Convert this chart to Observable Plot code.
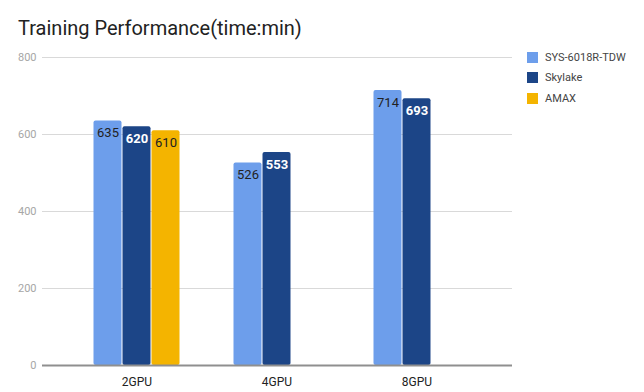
<!DOCTYPE html>
<html>
<head>
<meta charset="utf-8">
<script src="https://cdn.jsdelivr.net/npm/d3@7"></script>
<script src="https://cdn.jsdelivr.net/npm/@observablehq/plot@0.6"></script>
<style>
  html, body { margin: 0; padding: 0; background: #fff; }
  #wrap { position: relative; width: 644px; height: 392px; font-family: Roboto, sans-serif; overflow: hidden; }
  #title { position: absolute; left: 18px; top: 18px; font-size: 20px; line-height: 20px; color: #222; white-space: nowrap; }
  #legend { position: absolute; left: 527px; top: 47px; font-size: 11px; color: #444; }
  .item { display: flex; align-items: center; height: 20.5px; }
  .sw { width: 11px; height: 11px; margin-right: 7px; }
  .layer { position: absolute; left: 0; top: 0; }
</style>
</head>
<body>
<div id="wrap">
  <div id="grid" class="layer"></div>
  <div id="bars" class="layer"></div>
  <div id="base" class="layer"></div>
  <div id="title">Training Performance(time:min)</div>
  <div id="legend"></div>
</div>
<script>
const groups = ["2GPU", "4GPU", "8GPU"];
const seriesNames = ["SYS-6018R-TDW", "Skylake", "AMAX"];
const colors = ["#6d9eeb", "#1c4587", "#f4b400"];
const sysValues = [635, 526, 714];
const skylakeValues = [620, 553, 693];
const amaxValues = [610, null, null];
const yTicks = [0, 200, 400, 600, 800];

const seriesValues = [sysValues, skylakeValues, amaxValues];
const data = [];
seriesNames.forEach((s, si) => {
  groups.forEach((g, gi) => {
    const v = seriesValues[si][gi];
    if (v != null) data.push({group: g, series: s, value: v});
  });
});
const darkSeries = "Skylake";

const common = {
  width: 644,
  height: 392,
  marginLeft: 42,
  marginRight: 132,
  marginTop: 57,
  marginBottom: 27,
  style: {fontFamily: "Roboto, sans-serif", background: "transparent", overflow: "visible"},
  y: {domain: [0, 800], axis: null}
};

// Layer 1: gridlines and y tick labels
const gridPlot = Plot.plot({
  ...common,
  x: {domain: [0, 1], axis: null},
  marks: [
    Plot.ruleY(yTicks.filter(d => d > 0), {stroke: "#d9d9d9", strokeWidth: 1}),
    Plot.axisY(yTicks, {tickSize: 0, tickPadding: 6, fill: "#a6a6a6", fontSize: 11, label: null})
  ]
});
document.getElementById("grid").appendChild(gridPlot);

// Layer 2: bars and value labels
const barPlot = Plot.plot({
  ...common,
  fx: {domain: groups, paddingInner: 0.364, paddingOuter: 0.36, label: null, axis: "bottom", tickSize: 0, tickPadding: 12},
  x: {domain: seriesNames, padding: 0, axis: null},
  color: {domain: seriesNames, range: colors},
  marks: [
    Plot.barY(data, {fx: "group", x: "series", y: "value", fill: "series", insetLeft: 0.5, insetRight: 0.5, rx: 2}),
    Plot.text(data.filter(d => d.series !== darkSeries), {fx: "group", x: "series", y: "value", text: d => String(d.value), dy: 12, fill: "#222", fontSize: 13}),
    Plot.text(data.filter(d => d.series === darkSeries), {fx: "group", x: "series", y: "value", text: d => String(d.value), dy: 12, fill: "#fff", fontSize: 13, fontWeight: "bold"})
  ]
});
barPlot.querySelectorAll('g[aria-label^="fx-axis"] text').forEach(t => { t.setAttribute("fill", "#222"); t.style.fontSize = "12px"; });
document.getElementById("bars").appendChild(barPlot);

// Layer 3: zero baseline on top
const basePlot = Plot.plot({
  ...common,
  x: {domain: [0, 1], axis: null},
  marks: [
    Plot.ruleY([0], {stroke: "#8f8f8f", strokeWidth: 2})
  ]
});
document.getElementById("base").appendChild(basePlot);

const legend = document.getElementById("legend");
seriesNames.forEach((s, i) => {
  const item = document.createElement("div");
  item.className = "item";
  const sw = document.createElement("div");
  sw.className = "sw";
  sw.style.background = colors[i];
  const label = document.createElement("span");
  label.textContent = s;
  item.appendChild(sw);
  item.appendChild(label);
  legend.appendChild(item);
});
</script>
</body>
</html>
